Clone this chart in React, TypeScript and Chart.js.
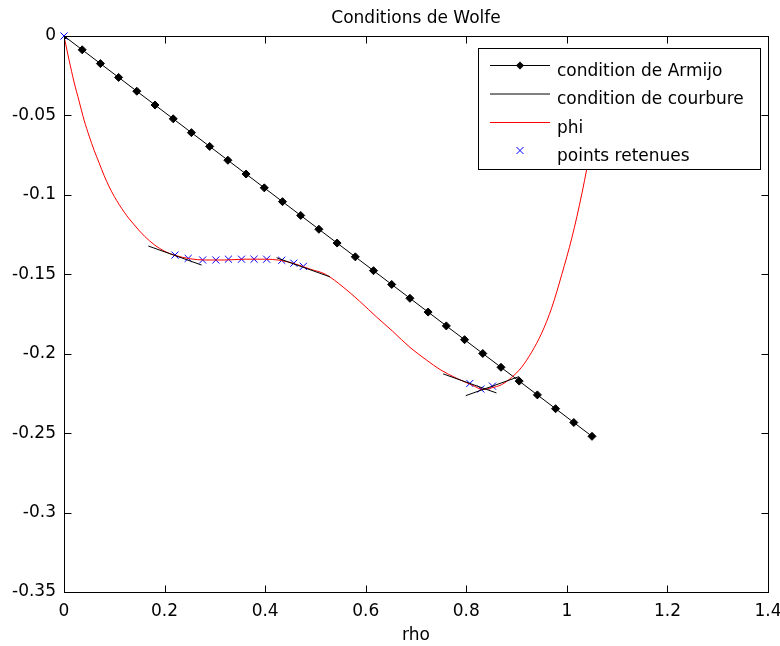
import React, { useEffect, useRef } from 'react';
import { Chart, registerables } from 'chart.js';

Chart.register(...registerables);

const TITLE = 'Conditions de Wolfe';
const X_LABEL = 'rho';
const FONT = 'DejaVu Sans';

const xTickValues = [0, 0.2, 0.4, 0.6, 0.8, 1, 1.2, 1.4];
const xTickLabels = ['0', '0.2', '0.4', '0.6', '0.8', '1', '1.2', '1.4'];
const yTickValues = [0, -0.05, -0.1, -0.15, -0.2, -0.25, -0.3, -0.35];
const yTickLabels = ['0', '-0.05', '-0.1', '-0.15', '-0.2', '-0.25', '-0.3', '-0.35'];

const legendLabels = ['condition de Armijo', 'condition de courbure', 'phi', 'points retenues'];

// condition de Armijo (straight line with markers)
const armijoRho = [0, 0.0362, 0.0724, 0.1086, 0.1448, 0.181, 0.2172, 0.2534, 0.2897, 0.3259, 0.3621, 0.3983, 0.4345, 0.4707, 0.5069, 0.5431, 0.5793, 0.6155, 0.6517, 0.6879, 0.7241, 0.7603, 0.7966, 0.8328, 0.869, 0.9052, 0.9414, 0.9776, 1.0138, 1.05];
const armijoVal = [0, -0.00869, -0.01738, -0.02607, -0.03476, -0.04345, -0.05214, -0.06083, -0.06952, -0.07821, -0.0869, -0.09559, -0.10428, -0.11297, -0.12166, -0.13034, -0.13903, -0.14772, -0.15641, -0.1651, -0.17379, -0.18248, -0.19117, -0.19986, -0.20855, -0.21724, -0.22593, -0.23462, -0.24331, -0.252];

// phi
const phiRho = [0, 0.01, 0.02, 0.03, 0.04, 0.05, 0.06, 0.07, 0.08, 0.09, 0.1, 0.12, 0.14, 0.16, 0.18, 0.2, 0.22, 0.25, 0.28, 0.32, 0.36, 0.4, 0.43, 0.46, 0.49, 0.52, 0.555, 0.588, 0.622, 0.654, 0.688, 0.721, 0.748, 0.781, 0.81, 0.833, 0.85, 0.87, 0.89, 0.91, 0.93, 0.95, 0.97, 0.99, 1.01, 1.03, 1.05, 1.07];
const phiVal = [0, -0.015, -0.029, -0.041, -0.053, -0.063, -0.072, -0.08, -0.088, -0.095, -0.101, -0.111, -0.119, -0.126, -0.1315, -0.1355, -0.138, -0.1402, -0.141, -0.141, -0.1405, -0.1405, -0.1412, -0.1435, -0.1468, -0.15, -0.158, -0.167, -0.177, -0.186, -0.196, -0.204, -0.21, -0.2155, -0.2195, -0.2225, -0.2215, -0.2195, -0.215, -0.2085, -0.199, -0.187, -0.171, -0.15, -0.127, -0.099, -0.066, -0.03];

// points retenues
const retainedRho = [0, 0.2207, 0.247, 0.2757, 0.302, 0.327, 0.353, 0.378, 0.403, 0.433, 0.457, 0.476, 0.807, 0.829, 0.852];
const retainedVal = [0, -0.1379, -0.14, -0.141, -0.141, -0.1405, -0.1405, -0.1405, -0.1405, -0.1412, -0.143, -0.145, -0.2187, -0.2222, -0.2204];

// condition de courbure (tangent segments)
const courbureStartRho = [0.1677, 0.4228, 0.754, 0.799];
const courbureStartVal = [-0.1322, -0.1396, -0.2127, -0.2264];
const courbureEndRho = [0.2737, 0.5288, 0.86, 0.905];
const courbureEndVal = [-0.1442, -0.1516, -0.2247, -0.2144];

const LEGEND_BOX = { left: 478.5, top: 48.5, right: 760.5, bottom: 169.5 };
const LEGEND_ROWS = [65, 93.5, 122, 150.5];

const framePlugin = {
  id: 'matlabFrame',
  beforeDraw(chart: any) {
    const c = chart.ctx;
    c.save();
    c.fillStyle = '#ffffff';
    c.fillRect(0, 0, chart.width, chart.height);
    c.restore();
  },
  afterDraw(chart: any) {
    const { ctx, chartArea: a, scales } = chart;
    ctx.save();
    ctx.strokeStyle = '#000';
    ctx.lineWidth = 1;
    const l = Math.round(a.left) + 0.5;
    const r = Math.round(a.right) + 0.5;
    const t = Math.round(a.top) + 0.5;
    const b = Math.round(a.bottom) + 0.5;
    ctx.strokeRect(l, t, r - l, b - t);
    const L = 7;
    ctx.beginPath();
    xTickValues.forEach((v) => {
      const x = Math.round(scales.x.getPixelForValue(v)) + 0.5;
      ctx.moveTo(x, b); ctx.lineTo(x, b - L);
      ctx.moveTo(x, t); ctx.lineTo(x, t + L);
    });
    yTickValues.forEach((v) => {
      const y = Math.round(scales.y.getPixelForValue(v)) + 0.5;
      ctx.moveTo(l, y); ctx.lineTo(l + L, y);
      ctx.moveTo(r, y); ctx.lineTo(r - L, y);
    });
    ctx.stroke();

    // legend
    const B = LEGEND_BOX;
    ctx.fillStyle = '#fff';
    ctx.fillRect(B.left, B.top, B.right - B.left, B.bottom - B.top);
    ctx.strokeStyle = '#000';
    ctx.strokeRect(B.left, B.top, B.right - B.left, B.bottom - B.top);
    const x0 = 490, x1 = 550, xm = 520;
    // Armijo
    ctx.beginPath(); ctx.moveTo(x0, LEGEND_ROWS[0] + 0.5); ctx.lineTo(x1, LEGEND_ROWS[0] + 0.5); ctx.strokeStyle = '#000'; ctx.stroke();
    ctx.beginPath();
    const d = 4;
    ctx.moveTo(xm, LEGEND_ROWS[0] + 0.5 - d); ctx.lineTo(xm + d, LEGEND_ROWS[0] + 0.5); ctx.lineTo(xm, LEGEND_ROWS[0] + 0.5 + d); ctx.lineTo(xm - d, LEGEND_ROWS[0] + 0.5); ctx.closePath();
    ctx.fillStyle = '#000'; ctx.fill();
    // courbure
    ctx.beginPath(); ctx.moveTo(x0, LEGEND_ROWS[1] + 0.5); ctx.lineTo(x1, LEGEND_ROWS[1] + 0.5); ctx.strokeStyle = '#000'; ctx.stroke();
    // phi
    ctx.beginPath(); ctx.moveTo(x0, LEGEND_ROWS[2] + 0.5); ctx.lineTo(x1, LEGEND_ROWS[2] + 0.5); ctx.strokeStyle = '#ff0000'; ctx.stroke();
    // points
    const k = 3.5;
    const py = LEGEND_ROWS[3];
    ctx.beginPath(); ctx.moveTo(xm - k, py - k); ctx.lineTo(xm + k, py + k); ctx.moveTo(xm + k, py - k); ctx.lineTo(xm - k, py + k);
    ctx.strokeStyle = '#0000ff'; ctx.stroke();

    ctx.fillStyle = '#000';
    ctx.font = `17px "${FONT}"`;
    ctx.textAlign = 'left';
    ctx.textBaseline = 'alphabetic';
    legendLabels.forEach((s, i) => ctx.fillText(s, 557, LEGEND_ROWS[i] + 10.5));

    // title and axis label
    ctx.textAlign = 'center';
    const cx = (a.left + a.right) / 2;
    ctx.fillText(TITLE, cx, 23);
    ctx.fillText(X_LABEL, cx, 640);
    ctx.restore();
  },
};

export default function App() {
  const ref = useRef<HTMLCanvasElement | null>(null);
  useEffect(() => {
    document.body.style.margin = '0';
    const canvas = ref.current;
    if (!canvas) return;
    const courbureData: any[] = [];
    courbureStartRho.forEach((s, i) => {
      courbureData.push({ x: s, y: courbureStartVal[i] });
      courbureData.push({ x: courbureEndRho[i], y: courbureEndVal[i] });
      courbureData.push({ x: courbureEndRho[i], y: null });
    });
    const chart = new Chart(canvas, {
      type: 'line',
      data: {
        datasets: [
          {
            label: legendLabels[1],
            data: courbureData,
            borderColor: '#000',
            borderWidth: 1,
            pointRadius: 0,
            spanGaps: false,
            fill: false,
          },
          {
            label: legendLabels[2],
            data: phiRho.map((x, i) => ({ x, y: phiVal[i] })),
            borderColor: '#ff0000',
            borderWidth: 1,
            pointRadius: 0,
            cubicInterpolationMode: 'monotone',
            fill: false,
          },
          {
            label: legendLabels[0],
            data: armijoRho.map((x, i) => ({ x, y: armijoVal[i] })),
            borderColor: '#000',
            borderWidth: 1,
            pointStyle: 'rectRot',
            pointRadius: 4,
            pointBackgroundColor: '#000',
            pointBorderColor: '#000',
            pointBorderWidth: 1,
            fill: false,
          },
          {
            label: legendLabels[3],
            data: retainedRho.map((x, i) => ({ x, y: retainedVal[i] })),
            showLine: false,
            pointStyle: 'crossRot',
            pointRadius: 5,
            pointBorderColor: '#0000ff',
            pointBorderWidth: 1,
            clip: false as any,
          },
        ],
      },
      options: {
        responsive: false,
        animation: false,
        devicePixelRatio: 1,
        layout: { padding: { top: 36, right: 12, left: 0, bottom: 0 } },
        font: { family: FONT, size: 17 } as any,
        plugins: {
          legend: { display: false },
          title: { display: false },
          tooltip: { enabled: false },
        },
        events: [],
        scales: {
          x: {
            type: 'linear',
            min: 0,
            max: 1.4,
            grid: { display: false, drawTicks: false },
            border: { display: false },
            afterBuildTicks: (s: any) => { s.ticks = xTickValues.map((v) => ({ value: v })); },
            afterFit: (s: any) => { s.height = 54; s.paddingLeft = 0; s.paddingRight = 0; },
            ticks: {
              autoSkip: false,
              maxRotation: 0,
              padding: 9,
              color: '#000',
              font: { family: FONT, size: 17 },
              callback: (v: any) => { const i = xTickValues.findIndex((t) => Math.abs(t - v) < 1e-9); return i >= 0 ? xTickLabels[i] : ''; },
            },
          },
          y: {
            type: 'linear',
            min: -0.35,
            max: 0,
            grid: { display: false, drawTicks: false },
            border: { display: false },
            afterBuildTicks: (s: any) => { s.ticks = yTickValues.map((v) => ({ value: v })); },
            afterFit: (s: any) => { s.width = 64; s.paddingTop = 0; s.paddingBottom = 0; },
            ticks: {
              autoSkip: false,
              padding: 8,
              color: '#000',
              font: { family: FONT, size: 17 },
              callback: (v: any) => { const i = yTickValues.findIndex((t) => Math.abs(t - v) < 1e-9); return i >= 0 ? yTickLabels[i] : ''; },
            },
          },
        },
      },
      plugins: [framePlugin],
    } as any);
    return () => chart.destroy();
  }, []);
  return (
    <div style={{ width: 780, height: 646 }}>
      <canvas ref={ref} width={780} height={646} style={{ display: 'block' }} />
    </div>
  );
}
